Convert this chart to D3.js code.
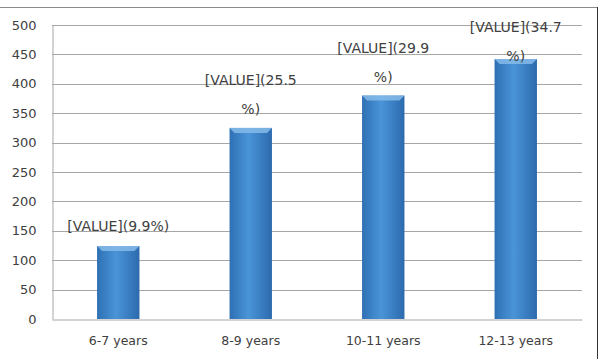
<!DOCTYPE html>
<html>
<head>
    <meta charset='utf-8'>
    <title>Age groups</title>
    <script src='https://cdn.jsdelivr.net/npm/d3@7/dist/d3.min.js'></script>
    <style>
        body { margin: 0; background: #fff; }
        text { font-family: 'DejaVu Sans', sans-serif; fill: #404040; }
    </style>
</head>
<body>
    <svg width='602' height='359'></svg>
    <script>
        const categories = ['6-7 years', '8-9 years', '10-11 years', '12-13 years']
        const values = [124, 325, 380, 442]
        const labelLines = [['[VALUE](9.9%)'], ['[VALUE](25.5', '%)'], ['[VALUE](29.9', '%)'], ['[VALUE](34.7', '%)']]
        const yTicks = [0, 50, 100, 150, 200, 250, 300, 350, 400, 450, 500]

        const svg = d3.select('svg')

        const x = d3.scaleBand().domain(categories).range([52, 582]).paddingInner(0.68).paddingOuter(0.34)
        const y = d3.scaleLinear().domain([0, 500]).range([319, 25])

        // frame pieces seen in the picture
        svg.append('line').attr('x1', 0).attr('x2', 598).attr('y1', 7.5).attr('y2', 7.5).attr('stroke', '#8a8a8a')
        svg.append('line').attr('x1', 597.5).attr('x2', 597.5).attr('y1', 7).attr('y2', 359).attr('stroke', '#333')

        const defs = svg.append('defs')
        const grad = defs.append('linearGradient').attr('id', 'barGrad').attr('x1', 0).attr('x2', 1).attr('y1', 0).attr('y2', 0)
        grad.append('stop').attr('offset', '0%').attr('stop-color', '#2f70b4')
        grad.append('stop').attr('offset', '45%').attr('stop-color', '#4a94d8')
        grad.append('stop').attr('offset', '100%').attr('stop-color', '#2c6aad')

        // gridlines
        svg.append('g').selectAll('line').data(yTicks.filter(d => d > 0)).enter().append('line')
            .attr('x1', 52).attr('x2', 582)
            .attr('y1', d => Math.round(y(d)) + 0.5).attr('y2', d => Math.round(y(d)) + 0.5)
            .attr('stroke', '#a6a6a6')

        // axes
        const yAxis = svg.append('g').attr('transform', 'translate(52.5,0)')
            .call(d3.axisLeft(y).tickValues(yTicks).tickSize(0).tickPadding(16))
        yAxis.select('.domain').attr('stroke', '#a6a6a6')
        yAxis.selectAll('text').attr('font-size', 13).style('fill', '#404040')
            .attr('font-family', 'DejaVu Sans')

        const xAxis = svg.append('g').attr('transform', 'translate(0,319.5)')
            .call(d3.axisBottom(x).tickSize(0).tickPadding(17))
        xAxis.select('.domain').attr('stroke', '#a6a6a6')
        xAxis.selectAll('text').attr('font-size', 12.5).style('fill', '#404040')
            .attr('font-family', 'DejaVu Sans')

        // bars
        const bars = svg.append('g').selectAll('g').data(values).enter().append('g')
        bars.append('rect')
            .attr('x', (d, i) => x(categories[i]))
            .attr('y', d => y(d))
            .attr('width', x.bandwidth())
            .attr('height', d => y(0) - y(d))
            .attr('fill', 'url(#barGrad)')
        bars.append('path')
            .attr('d', (d, i) => {
                const x0 = x(categories[i]), x1 = x0 + x.bandwidth(), t = y(d)
                return `M${x0},${t}L${x1},${t}L${x1 - 5},${t + 5}L${x0 + 5},${t + 5}Z`
            })
            .attr('fill', '#86bbea').attr('opacity', 0.85)

        // value labels (kept inside the chart area at the top)
        const labels = svg.append('g').selectAll('text').data(values).enter().append('text')
            .attr('text-anchor', 'middle')
            .attr('font-size', 14)
            .attr('x', (d, i) => x(categories[i]) + x.bandwidth() / 2)
            .attr('y', (d, i) => labelLines[i].length > 1 ? Math.max(y(d) - 43, 32) : y(d) - 15)
        labels.selectAll('tspan').data((d, i) => labelLines[i]).enter().append('tspan')
            .attr('x', function () { return this.parentNode.getAttribute('x') })
            .attr('dy', (d, j) => j === 0 ? 0 : 29)
            .text(d => d)
    </script>
</body>
</html>
